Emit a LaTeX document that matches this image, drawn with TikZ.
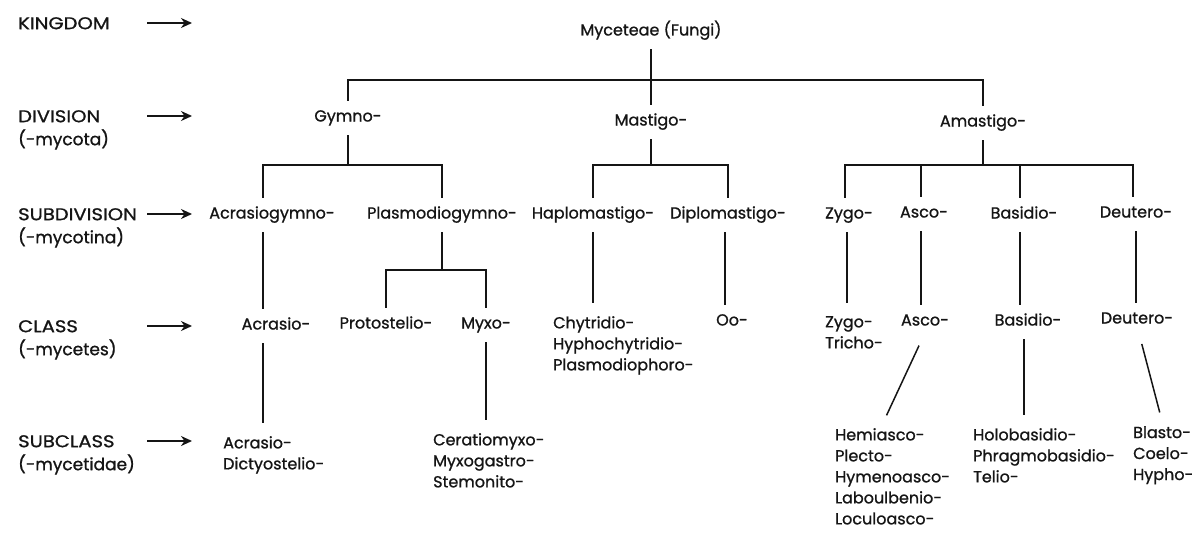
\documentclass[tikz,border=0pt]{standalone}
\usepackage{fontspec}
\setmainfont{Poppins}[FakeBold=1]
\newfontfamily\rankfont{Poppins}[FakeBold=1]
\newfontfamily\capsfont{Poppins}[FakeBold=1,FakeStretch=1.15]
\usetikzlibrary{arrows.meta,positioning,calc}
\definecolor{Ink}{HTML}{151515}

\begin{document}
\begin{tikzpicture}[x=1pt,y=-1pt,>={Stealth[length=11pt,width=10pt]},
  every node/.style={font=\fontsize{16}{21}\selectfont,text=Ink},
  taxon/.style={inner xsep=0pt,inner ysep=0pt,text height=11pt,text depth=4pt,minimum height=34pt},
  block/.style={align=left,anchor=north west,inner sep=0pt},
  rank/.style={align=left,anchor=north west,inner sep=0pt,font=\rankfont\fontsize{17}{23}\selectfont},
  tree/.style={draw=Ink,line width=1.5pt},
  toblock/.style={tree,shorten >=13pt},
  rankarrow/.style={->,draw=Ink,line width=2.2pt}]
  \useasboundingbox (0,0) rectangle (1200,535);
  % rank labels on the left
  \foreach \nm/\y/\txt in {kingdom/23/{{\capsfont KINGDOM}},division/116/{\capsfont DIVISION}\\(-mycota),
      subdivision/214/{\capsfont SUBDIVISION}\\(-mycotina),class/326/{\capsfont CLASS}\\(-mycetes),
      subclass/441/{\capsfont SUBCLASS}\\(-mycetidae)}{
    \node[rank] (\nm) at (18,\y-6) {\txt};
    \coordinate (\nm-tail) at (147,\y);
    \coordinate (\nm-tip) at (192,\y);
    \draw[rankarrow] (\nm-tail) -- (\nm-tip);
  }
  % kingdom and divisions
  \node[taxon] (myc) at (651,32) {Myceteae (Fungi)};
  \node[taxon] (gymno) at (348,118) {Gymno-};
  \node[taxon] (mastigo) at (651,122) {Mastigo-};
  \node[taxon] (amastigo) at (983,123) {Amastigo-};
  \coordinate (kbus) at (651,80);
  \draw[tree] (myc) -- (mastigo);
  \draw[tree] (gymno.north) |- (kbus) -| (amastigo.north);
  % subdivisions
  \node[taxon] (acrg) at (272,215) {Acrasiogymno-};
  \node[taxon] (plasg) at (442,215) {Plasmodiogymno-};
  \node[taxon] (haplo) at (593,215) {Haplomastigo-};
  \node[taxon] (diplo) at (728,215) {Diplomastigo-};
  \node[taxon] (zygo) at (849,215) {Zygo-};
  \node[taxon] (ascosub) at (924,214) {Asco-};
  \node[taxon] (basisub) at (1024,215) {Basidio-};
  \node[taxon] (deutsub) at (1136,214) {Deutero-};
  \coordinate (gbus) at (348,165);
  \coordinate (mbus) at (651,165);
  \coordinate (abus) at (983,165);
  \draw[tree] (gymno) -- (gbus);
  \draw[tree] ([xshift=-9pt]acrg.north) |- (gbus) -| (plasg.north);
  \draw[tree] (mastigo) -- (mbus);
  \draw[tree] (haplo.north) |- (mbus) -| (diplo.north);
  \draw[tree] (amastigo) -- (abus);
  \draw[tree] ([xshift=-4pt]zygo.north) |- (abus) -| ([xshift=-3pt]deutsub.north);
  \draw[tree] ([xshift=-3pt]ascosub.north) |- (abus);
  \draw[tree] ([xshift=-4pt]basisub.north) |- (abus);
  % classes
  \node[taxon] (acrasio) at (276,326) {Acrasio-};
  \node[taxon] (proto) at (386,325) {Protostelio-};
  \node[taxon] (myxo) at (486,325) {Myxo-};
  \node[block] (chy) at (553,316) {Chytridio-\\Hyphochytridio-\\Plasmodiophoro-};
  \node[taxon] (oo) at (732,322) {Oo-};
  \node[block] (zygotri) at (825,316) {Zygo-\\Tricho-};
  \node[taxon] (ascocl) at (925,322) {Asco-};
  \node[taxon] (basicl) at (1028,322) {Basidio-};
  \node[taxon] (deutcl) at (1137,320) {Deutero-};
  \coordinate (pbus) at (442,270);
  \draw[tree] ([xshift=-9pt]acrg.south) -- ([xshift=-9pt]acrg.south |- acrasio.north);
  \draw[tree] (plasg) -- (pbus);
  \draw[tree] (proto.north) |- (pbus) -| (myxo.north);
  \draw[toblock] (haplo.south) -- (haplo.south |- chy.north);
  \draw[tree] ([xshift=-3pt]diplo.south) -- ([xshift=-3pt]diplo.south |- oo.north);
  \draw[toblock] ([xshift=-2pt]zygo.south) -- ([xshift=-2pt]zygo.south |- zygotri.north);
  \draw[tree] ([xshift=-3pt]ascosub.south) -- ([xshift=-3pt]ascosub.south |- ascocl.north);
  \draw[tree] ([xshift=-4pt]basisub.south) -- ([xshift=-4pt]basisub.south |- basicl.north);
  \draw[tree] (deutsub.south) -- (deutsub.south |- deutcl.north);
  % subclasses
  \node[block] (acrdict) at (223,436) {Acrasio-\\Dictyostelio-};
  \node[block] (cerat) at (433,433) {Ceratiomyxo-\\Myxogastro-\\Stemonito-};
  \node[block] (hemi) at (835,428) {Hemiasco-\\Plecto-\\Hymenoasco-\\Laboulbenio-\\Loculoasco-};
  \node[block] (holo) at (973,428) {Holobasidio-\\Phragmobasidio-\\Telio-};
  \node[block] (blasto) at (1133,426) {Blasto-\\Coelo-\\Hypho-};
  \draw[toblock] ([xshift=-13pt]acrasio.south) -- ([xshift=-13pt]acrasio.south |- acrdict.north);
  \draw[toblock] (myxo.south) -- (myxo.south |- cerat.north);
  \draw[tree,shorten <=7pt,shorten >=14pt] ([xshift=-3pt]ascocl.south) -- ([xshift=-12pt]hemi.north);
  \draw[toblock] ([xshift=-4pt]basicl.south) -- ([xshift=-4pt]basicl.south |- holo.north);
  \draw[tree,shorten <=7pt,shorten >=14pt] ([xshift=3pt]deutcl.south) -- (blasto.north);
\end{tikzpicture}
\end{document}
